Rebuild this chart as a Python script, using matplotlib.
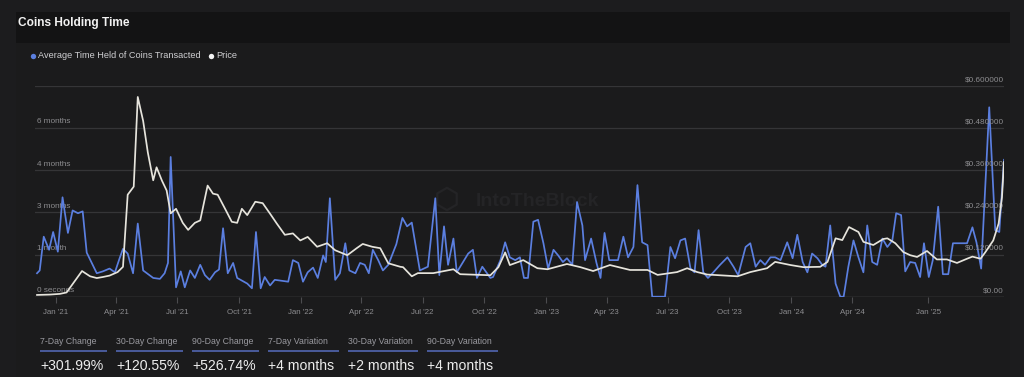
import numpy as np
import pandas as pd
import matplotlib
matplotlib.use("Agg")
import matplotlib.pyplot as plt
import matplotlib.dates as mdates
import matplotlib.transforms as mtransforms
from matplotlib.patches import Rectangle

plt.rcParams['font.family'] = ['Liberation Sans', 'DejaVu Sans']

# ---------------- data ----------------
ORIGIN = "2021-01-01"   # day offsets below are days since this date

held_day = [-28, -24, -18, -10, -4, 3, 10, 18, 25, 33, 40, 46, 61, 70, 80, 88, 95, 100,
            107, 115, 122, 130, 145, 155, 162, 167, 171, 179, 186, 192, 200, 207, 215,
            222, 229, 237, 243, 249, 256, 264, 270, 285, 292, 298, 305, 311, 319, 326,
            346, 353, 361, 368, 375, 383, 390, 398, 402, 408, 416, 423, 431, 437, 446,
            453, 460, 466, 472, 480, 487, 495, 507, 516, 523, 530, 542, 554, 565, 571,
            578, 584, 592, 597, 614, 621, 627, 635, 647, 651, 662, 669, 676, 684, 691,
            697, 703, 711, 718, 726, 733, 741, 748, 755, 761, 769, 776, 784, 788, 797,
            805, 811, 817, 824, 837, 845, 852, 860, 866, 873, 881, 888, 907, 915, 922,
            930, 937, 945, 951, 957, 964, 971, 979, 989, 1000, 1009, 1016, 1027, 1034,
            1042, 1049, 1056, 1064, 1071, 1079, 1089, 1097, 1104, 1112, 1119, 1126,
            1134, 1141, 1146, 1153, 1161, 1168, 1173, 1180, 1190, 1208, 1226, 1240,
            1258, 1276, 1295, 1313, 1331, 1345, 1363, 1378, 1396, 1414, 1432, 1446,
            1462, 1468, 1476, 1483, 1491, 1498, 1519, 1527, 1533, 1540, 1552, 1561,
            1567, 1574]
held_value = [25, 28, 64, 50, 69, 48, 106, 68, 92, 89, 91, 47, 25, 27, 30, 26, 41, 51,
              46, 25, 78, 28, 20, 19, 25, 36, 149, 10, 27, 10, 28, 20, 34,
              23, 18, 26, 29, 73, 25, 36, 20, 14, 9, 69, 9, 21, 12, 18,
              16, 39, 36, 16, 26, 31, 20, 44, 37, 105, 18, 25, 57, 28, 25,
              36, 34, 25, 50, 39, 28, 34, 56, 84, 75, 79, 28, 32, 105, 23,
              75, 34, 62, 26, 46, 50, 20, 32, 20, 21, 39, 58, 42, 39, 42,
              20, 20, 80, 82, 57, 30, 50, 44, 37, 41, 34, 101, 76, 39, 62,
              36, 20, 68, 39, 39, 64, 42, 53, 119, 58, 55, 0, 0, 53, 41,
              60, 62, 30, 26, 71, 26, 20, 26, 34, 42, 32, 23, 53, 57,
              32, 39, 34, 42, 42, 39, 58, 41, 66, 37, 26, 46,
              41, 34, 32, 76, 14, 0, 0, 32, 60, 42, 26, 76,
              37, 34, 62, 53, 60, 89, 87, 27, 37, 36, 21, 57,
              21, 39, 96, 24, 24, 57, 57, 74, 58, 30, 202, 71,
              69, 146]

price_day = [-28, -9, 6, 16, 39, 51, 61, 70, 80, 92, 100, 107, 116, 122, 130, 137, 145,
             150, 158, 165, 171, 179, 189, 197, 207, 215, 226, 234, 241, 252, 262, 270,
             277, 285, 297, 308, 319, 329, 341, 353, 364, 375, 389, 404, 416, 434, 448,
             457, 471, 483, 495, 513, 517, 530, 539, 562, 592, 602, 647, 659, 669, 676,
             696, 717, 732, 761, 781, 800, 825, 855, 881, 896, 925, 940, 955, 970, 1015,
             1034, 1059, 1071, 1094, 1113, 1138, 1149, 1161, 1171, 1181, 1208, 1226,
             1262, 1298, 1313, 1342, 1371, 1396, 1421, 1457, 1474, 1489, 1504, 1519,
             1527, 1539, 1546, 1558, 1566, 1571, 1574]
price_value = [0.005, 0.006, 0.008, 0.012, 0.073, 0.058, 0.053, 0.056, 0.060, 0.070, 0.085,
               0.290, 0.313, 0.568, 0.500, 0.410, 0.331, 0.368, 0.330, 0.302, 0.237, 0.250,
               0.210, 0.190, 0.210, 0.217, 0.316, 0.293, 0.290, 0.250, 0.213, 0.210, 0.250,
               0.232, 0.270, 0.266, 0.236, 0.208, 0.176, 0.180, 0.160, 0.170, 0.142, 0.152,
               0.132, 0.118, 0.138, 0.150, 0.142, 0.138, 0.095, 0.085, 0.084, 0.058, 0.067,
               0.067, 0.078, 0.064, 0.061, 0.084, 0.126, 0.090, 0.104, 0.081, 0.078, 0.093,
               0.084, 0.073, 0.090, 0.076, 0.076, 0.062, 0.070, 0.081, 0.070, 0.063, 0.058,
               0.070, 0.081, 0.099, 0.090, 0.084, 0.085, 0.099, 0.166, 0.161, 0.198, 0.184,
               0.156, 0.147, 0.164, 0.166, 0.152, 0.127, 0.118, 0.113, 0.130, 0.106, 0.106,
               0.096, 0.108, 0.114, 0.108, 0.126, 0.160, 0.208, 0.283, 0.383]

held_ticks = [0, 45, 90, 135, 180, 225]
held_tick_labels = ["0 seconds", "1 month", "3 months", "4 months", "6 months", ""]
price_ticks = [0.0, 0.12, 0.24, 0.36, 0.48, 0.60]
price_tick_labels = ["$0.00", "$0.120000", "$0.240000", "$0.360000", "$0.480000", "$0.600000"]
x_tick_dates = ["2021-01-01", "2021-04-01", "2021-07-01", "2021-10-01", "2022-01-01",
                "2022-04-01", "2022-07-01", "2022-10-01", "2023-01-01", "2023-04-01",
                "2023-07-01", "2023-10-01", "2024-01-01", "2024-04-01", "2025-01-01"]
x_tick_labels = ["Jan '21", "Apr '21", "Jul '21", "Oct '21", "Jan '22", "Apr '22", "Jul '22",
                 "Oct '22", "Jan '23", "Apr '23", "Jul '23", "Oct '23", "Jan '24", "Apr '24",
                 "Jan '25"]
stat_names = ["7-Day Change", "30-Day Change", "90-Day Change",
              "7-Day Variation", "30-Day Variation", "90-Day Variation"]
stat_values = ["+301.99%", "+120.55%", "+526.74%", "+4 months", "+2 months", "+4 months"]

# ---------------- style ----------------
BLUE = "#5b7fe0"
WHITE = "#e6e4dc"
GRID = "#353537"
TXT = "#8d8d90"

W, H = 1024, 377
fig = plt.figure(figsize=(W / 100, H / 100), dpi=100, facecolor="#1c1c1e")

# background / decorations layer (pixel coordinates)
bg = fig.add_axes([0, 0, 1, 1], zorder=-1)
bg.set_xlim(0, W)
bg.set_ylim(H, 0)
bg.axis("off")
bg.add_patch(Rectangle((16, 12), 994, 31, color="#131314", lw=0))
bg.add_patch(Rectangle((16, 43), 994, 334, color="#1b1b1c", lw=0))
bg.text(18, 23, "Coins Holding Time", color="#f2f2f2", fontsize=8.6,
        fontweight="bold", va="center", ha="left")
bg.scatter([33], [55.5], s=15, color=BLUE, zorder=3, lw=0)
bg.text(38, 55.5, "Average Time Held of Coins Transacted", color="#cfcfd2",
        fontsize=6.6, va="center", ha="left")
bg.scatter([211], [55.5], s=15, color="#f4f4f4", zorder=3, lw=0)
bg.text(216, 55.5, "Price", color="#cfcfd2", fontsize=6.6, va="center", ha="left")

# watermark
bg.text(537, 201, "IntoTheBlock", color="#242426", fontsize=14, fontweight="bold",
        ha="center", va="center")
bg.scatter([447], [199], s=260, marker="h", facecolor="none", edgecolor="#242426", lw=1.6)

# stats row
col_x = [40, 116, 192, 268, 348, 427]
col_w = [67, 67, 67, 71, 70, 71]
for cx, cw, name, val in zip(col_x, col_w, stat_names, stat_values):
    bg.text(cx, 341.5, name, color="#9a9aa0", fontsize=6.3, ha="left", va="center")
    bg.plot([cx, cx + cw], [350.6, 350.6], color="#4a5b9c", lw=1.4, solid_capstyle="butt")
    bg.text(cx, 365.5, val, color="#ececec", fontsize=10.1, ha="left", va="center")

# ---------------- main chart ----------------
ax = fig.add_axes([35 / W, (H - 296.7) / H, 969 / W, 211 / H])
ax.set_facecolor("none")

A = mdates.date2num(pd.Timestamp("2024-04-01"))
B = mdates.date2num(pd.Timestamp("2025-01-01"))
C = 0.41
BP = A + (B - A) * C


def fwd(x):
    x = np.asarray(x, dtype=float)
    return np.where(x < A, x, np.where(x < B, A + (x - A) * C, BP + (x - B)))


def inv(y):
    y = np.asarray(y, dtype=float)
    return np.where(y < A, y, np.where(y < BP, A + (y - A) / C, B + (y - BP)))


ax.set_xscale("function", functions=(fwd, inv))

origin = pd.Timestamp(ORIGIN)
held_dates = (origin + pd.to_timedelta(held_day, unit="D")).to_pydatetime()
price_dates = (origin + pd.to_timedelta(price_day, unit="D")).to_pydatetime()

ax.plot(held_dates, held_value, color=BLUE, lw=1.25, zorder=3, solid_joinstyle="round")
ax.set_ylim(held_ticks[0], held_ticks[-1])
ax.set_yticks(held_ticks)
ax.yaxis.grid(True, color=GRID, lw=0.9)
ax.tick_params(axis="y", length=0, labelleft=False)
ax.axhline(0, color="#4c4c4f", lw=1.0, zorder=1)

ax2 = ax.twinx()
ax2.plot(price_dates, price_value, color=WHITE, lw=1.25, zorder=4, solid_joinstyle="round")
ax2.set_ylim(price_ticks[0], price_ticks[-1])
ax2.set_yticks([])

xmin = origin + pd.Timedelta(days=min(held_day) - 3)
xmax = origin + pd.Timedelta(days=max(held_day))
ax.set_xlim(xmin.to_pydatetime(), xmax.to_pydatetime())
ax.set_xticks(mdates.date2num(pd.to_datetime(x_tick_dates).to_pydatetime()))
ax.set_xticklabels(x_tick_labels)
ax.tick_params(axis="x", length=4, width=0.8, color="#4c4c4f", labelcolor=TXT,
               labelsize=5.7, pad=5)
for a in (ax, ax2):
    for s in a.spines.values():
        s.set_visible(False)

# axis labels drawn inside the plot, just above each gridline
left_tr = mtransforms.offset_copy(
    mtransforms.blended_transform_factory(ax.transAxes, ax.transData),
    fig=fig, x=2, y=2.5, units="dots")
for v, lab in zip(held_ticks, held_tick_labels):
    ax.text(0, v, lab, transform=left_tr, color=TXT, fontsize=5.9,
            ha="left", va="bottom", zorder=2)
right_tr = mtransforms.offset_copy(
    mtransforms.blended_transform_factory(ax2.transAxes, ax2.transData),
    fig=fig, x=0, y=2.5, units="dots")
for v, lab in zip(price_ticks, price_tick_labels):
    ax2.text(1, v, lab, transform=right_tr, color=TXT, fontsize=5.9,
             ha="right", va="bottom", zorder=2)

fig.savefig("out.png", dpi=100, facecolor=fig.get_facecolor())
